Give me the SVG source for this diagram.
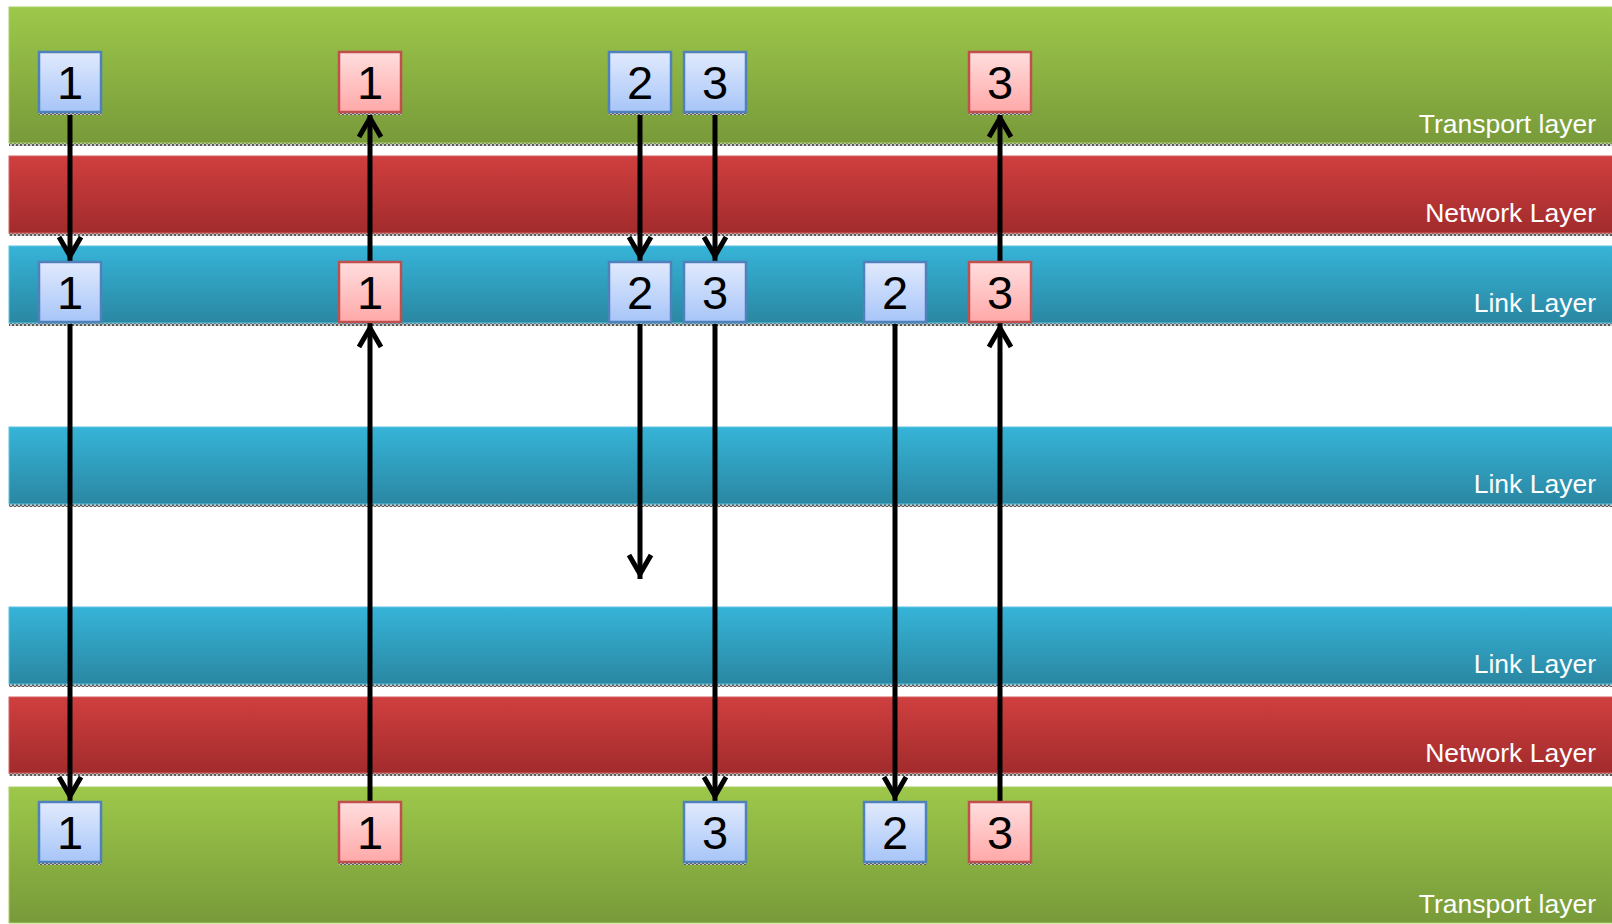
<svg xmlns="http://www.w3.org/2000/svg" width="1612" height="924" viewBox="0 0 1612 924">
<defs>
  <linearGradient id="gGreen" x1="0" y1="0" x2="0" y2="1">
    <stop offset="0" stop-color="#9dc84a"/>
    <stop offset="1" stop-color="#789a3a"/>
  </linearGradient>
  <linearGradient id="gRed" x1="0" y1="0" x2="0" y2="1">
    <stop offset="0" stop-color="#d03f3f"/>
    <stop offset="1" stop-color="#a22b2c"/>
  </linearGradient>
  <linearGradient id="gBlue" x1="0" y1="0" x2="0" y2="1">
    <stop offset="0" stop-color="#36b4d8"/>
    <stop offset="1" stop-color="#2a87a2"/>
  </linearGradient>
  <linearGradient id="gBoxBlue" x1="0" y1="0" x2="0" y2="1">
    <stop offset="0" stop-color="#e1eafd"/>
    <stop offset="1" stop-color="#a7c5f8"/>
  </linearGradient>
  <linearGradient id="gBoxRed" x1="0" y1="0" x2="0" y2="1">
    <stop offset="0" stop-color="#ffdede"/>
    <stop offset="1" stop-color="#ffa8a8"/>
  </linearGradient>
  <pattern id="shadow" width="4" height="4" patternUnits="userSpaceOnUse">
    <rect width="4" height="4" fill="#c8c8c8"/>
    <rect width="2" height="2" fill="#5a5a5a"/>
    <rect x="2" y="2" width="2" height="2" fill="#5a5a5a"/>
  </pattern>
  <marker id="head" viewBox="0 0 32 28" refX="27" refY="14" markerWidth="32" markerHeight="28" markerUnits="userSpaceOnUse" orient="auto">
    <path d="M3,3 L22,14 L3,25" fill="none" stroke="#000" stroke-width="5" stroke-linejoin="miter"/>
  </marker>
</defs>
<style>
  .lbl { font-family: "Liberation Sans", Arial, sans-serif; font-size: 26.5px; fill: #ffffff; text-anchor: end; }
  .num { font-family: "Liberation Sans", Arial, sans-serif; font-size: 47px; fill: #000000; text-anchor: middle; }
  .bb { fill: url(#gBoxBlue); stroke: #4f81bd; stroke-width: 2.5; }
  .br { fill: url(#gBoxRed); stroke: #c0504d; stroke-width: 2.5; }
  .sh { fill: url(#shadow); }
  .arr { stroke: #000; stroke-width: 5; fill: none; marker-end: url(#head); }
</style>
<rect width="1612" height="924" fill="#ffffff"/>

<g id="bands">
  <g id="transport-top">
    <rect class="sh" x="9" y="143" width="1603" height="3"/>
    <rect x="9" y="7" width="1604" height="136" fill="url(#gGreen)" stroke="#a9cf65" stroke-width="1"/>
    <text class="lbl" x="1596" y="133">Transport layer</text>
  </g>
  <g id="network-top">
    <rect class="sh" x="9" y="233" width="1603" height="3"/>
    <rect x="9" y="156" width="1604" height="77" fill="url(#gRed)" stroke="#d66060" stroke-width="1"/>
    <text class="lbl" x="1596" y="222">Network Layer</text>
  </g>
  <g id="link-1">
    <rect class="sh" x="9" y="323" width="1603" height="3"/>
    <rect x="9" y="246" width="1604" height="77" fill="url(#gBlue)" stroke="#5cc2df" stroke-width="1"/>
    <text class="lbl" x="1596" y="312">Link Layer</text>
  </g>
  <g id="link-2">
    <rect class="sh" x="9" y="504" width="1603" height="3"/>
    <rect x="9" y="427" width="1604" height="77" fill="url(#gBlue)" stroke="#5cc2df" stroke-width="1"/>
    <text class="lbl" x="1596" y="493">Link Layer</text>
  </g>
  <g id="link-3">
    <rect class="sh" x="9" y="684" width="1603" height="3"/>
    <rect x="9" y="607" width="1604" height="77" fill="url(#gBlue)" stroke="#5cc2df" stroke-width="1"/>
    <text class="lbl" x="1596" y="673">Link Layer</text>
  </g>
  <g id="network-bottom">
    <rect class="sh" x="9" y="773" width="1603" height="3"/>
    <rect x="9" y="697" width="1604" height="76" fill="url(#gRed)" stroke="#d66060" stroke-width="1"/>
    <text class="lbl" x="1596" y="762">Network Layer</text>
  </g>
  <g id="transport-bottom">
    <rect x="9" y="787" width="1604" height="136" fill="url(#gGreen)" stroke="#a9cf65" stroke-width="1"/>
    <text class="lbl" x="1596" y="913">Transport layer</text>
  </g>
</g>

<g id="connectors">
  <line class="arr" x1="70" y1="114" x2="70" y2="261"/>
  <line class="arr" x1="70" y1="324" x2="70" y2="801"/>
  <line class="arr" x1="370" y1="261" x2="370" y2="113"/>
  <line class="arr" x1="370" y1="801" x2="370" y2="323"/>
  <line class="arr" x1="640" y1="114" x2="640" y2="261"/>
  <line class="arr" x1="640" y1="324" x2="640" y2="579"/>
  <line class="arr" x1="715" y1="114" x2="715" y2="261"/>
  <line class="arr" x1="715" y1="324" x2="715" y2="801"/>
  <line class="arr" x1="895" y1="324" x2="895" y2="801"/>
  <line class="arr" x1="1000" y1="261" x2="1000" y2="113"/>
  <line class="arr" x1="1000" y1="801" x2="1000" y2="323"/>
</g>

<g id="top-1-blue"><rect class="sh" x="39" y="112" width="62" height="3"/><rect class="bb" x="39" y="52" width="62" height="60"/><text class="num" x="70" y="99">1</text></g>
<g id="top-1-red"><rect class="sh" x="339" y="112" width="62" height="3"/><rect class="br" x="339" y="52" width="62" height="60"/><text class="num" x="370" y="99">1</text></g>
<g id="top-2-blue"><rect class="sh" x="609" y="112" width="62" height="3"/><rect class="bb" x="609" y="52" width="62" height="60"/><text class="num" x="640" y="99">2</text></g>
<g id="top-3-blue"><rect class="sh" x="684" y="112" width="62" height="3"/><rect class="bb" x="684" y="52" width="62" height="60"/><text class="num" x="715" y="99">3</text></g>
<g id="top-3-red"><rect class="sh" x="969" y="112" width="62" height="3"/><rect class="br" x="969" y="52" width="62" height="60"/><text class="num" x="1000" y="99">3</text></g>

<g id="link-1-blue"><rect class="bb" x="39" y="262" width="62" height="60"/><text class="num" x="70" y="309">1</text></g>
<g id="link-1-red"><rect class="br" x="339" y="262" width="62" height="60"/><text class="num" x="370" y="309">1</text></g>
<g id="link-2-blue"><rect class="bb" x="609" y="262" width="62" height="60"/><text class="num" x="640" y="309">2</text></g>
<g id="link-3-blue"><rect class="bb" x="684" y="262" width="62" height="60"/><text class="num" x="715" y="309">3</text></g>
<g id="link-2b-blue"><rect class="bb" x="864" y="262" width="62" height="60"/><text class="num" x="895" y="309">2</text></g>
<g id="link-3-red"><rect class="br" x="969" y="262" width="62" height="60"/><text class="num" x="1000" y="309">3</text></g>

<g id="bot-1-blue"><rect class="sh" x="39" y="862" width="62" height="3"/><rect class="bb" x="39" y="802" width="62" height="60"/><text class="num" x="70" y="849">1</text></g>
<g id="bot-1-red"><rect class="sh" x="339" y="862" width="62" height="3"/><rect class="br" x="339" y="802" width="62" height="60"/><text class="num" x="370" y="849">1</text></g>
<g id="bot-3-blue"><rect class="sh" x="684" y="862" width="62" height="3"/><rect class="bb" x="684" y="802" width="62" height="60"/><text class="num" x="715" y="849">3</text></g>
<g id="bot-2-blue"><rect class="sh" x="864" y="862" width="62" height="3"/><rect class="bb" x="864" y="802" width="62" height="60"/><text class="num" x="895" y="849">2</text></g>
<g id="bot-3-red"><rect class="sh" x="969" y="862" width="62" height="3"/><rect class="br" x="969" y="802" width="62" height="60"/><text class="num" x="1000" y="849">3</text></g>
</svg>
